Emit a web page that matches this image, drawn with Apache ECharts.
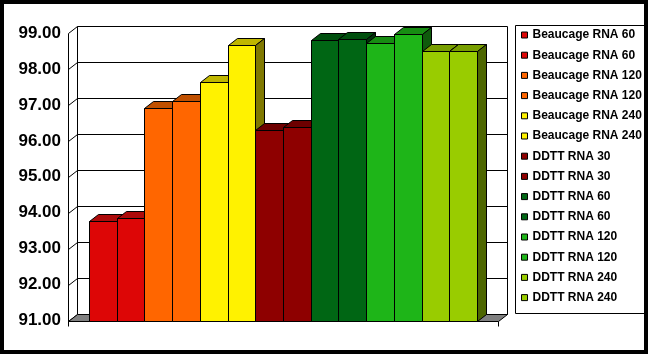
<!DOCTYPE html>
<html>
<head>
<meta charset="utf-8">
<script src="https://cdn.jsdelivr.net/npm/echarts@6/dist/echarts.min.js"></script>
<style>
html, body { margin: 0; padding: 0; background: #fff; }
#chart { width: 648px; height: 354px; }
</style>
</head>
<body>
<div id="chart"></div>
<script>
// data
var labels = ['Beaucage RNA 60', 'Beaucage RNA 60', 'Beaucage RNA 120', 'Beaucage RNA 120',
              'Beaucage RNA 240', 'Beaucage RNA 240', 'DDTT RNA 30', 'DDTT RNA 30',
              'DDTT RNA 60', 'DDTT RNA 60', 'DDTT RNA 120', 'DDTT RNA 120',
              'DDTT RNA 240', 'DDTT RNA 240'];
var values = [93.76, 93.84, 96.92, 97.12, 97.64, 98.67, 96.31, 96.38,
              98.81, 98.84, 98.73, 98.98, 98.49, 98.49];
var yMin = 91, yMax = 99, yStep = 1;

// face colours, one per pair of bars
var frontColors = ['#DD0606', '#FF6600', '#FFF200', '#8E0000', '#006614', '#1EB518', '#99CC00'];
var topColors   = ['#AD0B0B', '#C05000', '#BFB600', '#6D0000', '#004F0E', '#178C12', '#789E00'];
var sideColors  = ['#700505', '#803300', '#807900', '#470000', '#00330A', '#0F5A0C', '#4D6600'];

var DX = 9, DY = 7;   // 3d depth offset
var FONT = 'Arial, "Liberation Sans", sans-serif';

function px(v) { return Math.round(v) + 0.5; }

function renderWalls(params, api) {
    var cs = params.coordSys;
    var x0 = px(cs.x), x1 = px(cs.x + cs.width);
    var yT = px(api.coord([0, yMax])[1]), yB = px(api.coord([0, yMin])[1]);
    var line = { fill: 'none', stroke: '#000', lineWidth: 1 };
    var kids = [];
    // back wall
    kids.push({ type: 'rect', shape: { x: x0 + DX, y: yT - DY, width: x1 - x0, height: yB - yT },
                style: { fill: '#fff', stroke: '#000', lineWidth: 1 } });
    // left wall
    kids.push({ type: 'polygon', shape: { points: [[x0, yT], [x0 + DX, yT - DY], [x0 + DX, yB - DY], [x0, yB]] },
                style: { fill: '#fff', stroke: '#000', lineWidth: 1 } });
    // grid lines on back and side wall
    for (var v = yMin + yStep; v < yMax; v += yStep) {
        var y = px(api.coord([0, v])[1]);
        kids.push({ type: 'polyline', shape: { points: [[x0, y], [x0 + DX, y - DY], [x1 + DX, y - DY]] }, style: line });
    }
    // floor
    kids.push({ type: 'polygon', shape: { points: [[x0, yB], [x0 + DX, yB - DY], [x1 + DX, yB - DY], [x1, yB]] },
                style: { fill: '#808080', stroke: '#000', lineWidth: 1 } });
    // category axis end ticks
    kids.push({ type: 'line', shape: { x1: x0, y1: yB, x2: x0, y2: yB + 5 }, style: line });
    kids.push({ type: 'line', shape: { x1: x1, y1: yB, x2: x1, y2: yB + 5 }, style: line });
    return { type: 'group', children: kids };
}

function makeBarRenderer(ci) {
    return function (params, api) {
        var i = api.value(0), v = api.value(1);
        var a = api.coord([i, v]), b = api.coord([i + 1, yMin]);
        var x = px(a[0]), x2 = px(b[0]), yt = px(a[1]), yb = px(b[1]);
        var st = { stroke: '#000', lineWidth: 1 };
        return {
            type: 'group',
            children: [
                { type: 'rect', shape: { x: x, y: yt, width: x2 - x, height: yb - yt },
                  style: Object.assign({ fill: frontColors[ci] }, st) },
                { type: 'polygon', shape: { points: [[x, yt], [x + DX, yt - DY], [x2 + DX, yt - DY], [x2, yt]] },
                  style: Object.assign({ fill: topColors[ci] }, st) },
                { type: 'polygon', shape: { points: [[x2, yt], [x2 + DX, yt - DY], [x2 + DX, yb - DY], [x2, yb]] },
                  style: Object.assign({ fill: sideColors[ci] }, st) }
            ]
        };
    };
}

var series = [{
    type: 'custom',
    silent: true,
    renderItem: renderWalls,
    data: [[0, yMin]]
}];
var legendNames = [];
for (var i = 0; i < values.length; i++) {
    var ci = Math.floor(i / 2);
    legendNames.push('s' + i);
    series.push({
        name: 's' + i,
        type: 'custom',
        silent: true,
        itemStyle: { color: frontColors[ci] },
        renderItem: makeBarRenderer(ci),
        data: [[i, values[i]]]
    });
}

var myChart = echarts.init(document.getElementById('chart'));
myChart.setOption({
    animation: false,
    backgroundColor: '#fff',
    graphic: [
        { type: 'rect', shape: { x: 515.5, y: 25.5, width: 130, height: 288 },
          style: { fill: '#fff', stroke: '#000', lineWidth: 1 } },
        { type: 'rect', shape: { x: 2, y: 2, width: 644, height: 350 }, z: 100,
          style: { fill: 'none', stroke: '#000', lineWidth: 4 } }
    ],
    grid: { left: 68, top: 33, width: 430, bottom: 33.5, containLabel: false },
    xAxis: { type: 'value', min: -0.758, max: 14.758, show: false },
    yAxis: {
        type: 'value', min: yMin, max: yMax, interval: yStep,
        axisLine: { show: true, lineStyle: { color: '#000', width: 1 } },
        axisTick: { show: true, length: 5, lineStyle: { color: '#000' } },
        splitLine: { show: false },
        axisLabel: {
            margin: 7, color: '#000', fontWeight: 'bold', fontSize: 17, fontFamily: FONT,
            formatter: function (v) { return v.toFixed(2); }
        }
    },
    legend: {
        data: legendNames,
        orient: 'vertical',
        left: 521, top: 28,
        padding: 0,
        itemGap: 6.2,
        itemWidth: 6, itemHeight: 6,
        icon: 'rect',
        selectedMode: false,
        itemStyle: { borderColor: '#000', borderWidth: 1 },
        textStyle: { color: '#000', fontWeight: 'bold', fontSize: 12, fontFamily: FONT, lineHeight: 14 },
        formatter: function (name) { return labels[+name.slice(1)]; }
    },
    series: series
});
</script>
</body>
</html>
